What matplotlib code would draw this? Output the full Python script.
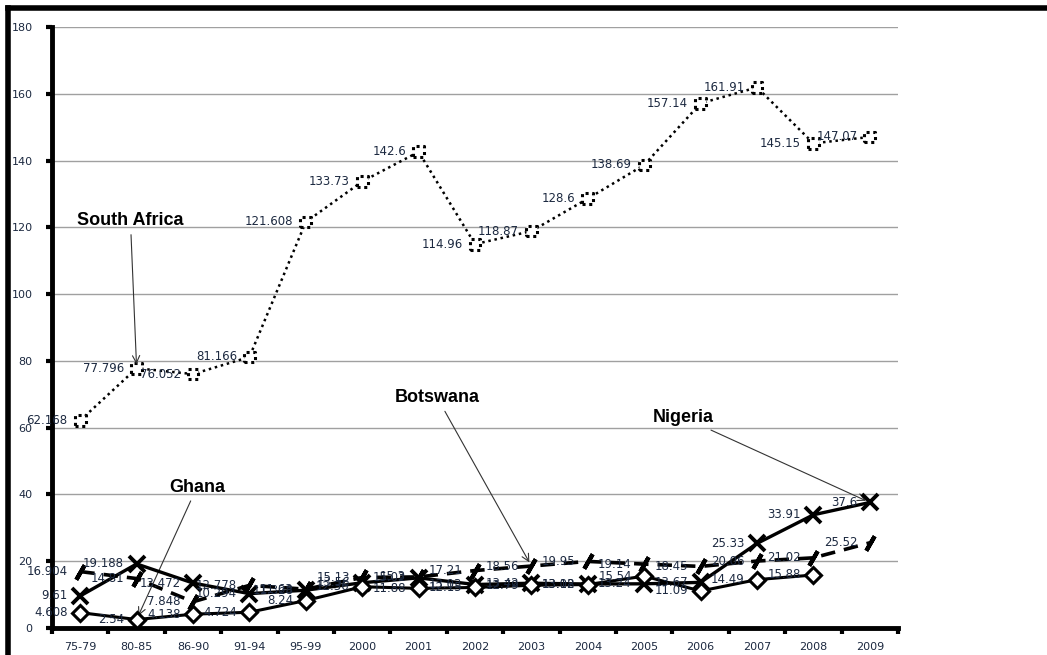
import numpy as np
import matplotlib
matplotlib.use("Agg")
import matplotlib.pyplot as plt
from matplotlib.lines import Line2D

# ── Data ──────────────────────────────────────────────────────────────────────
periods = ["75-79", "80-85", "86-90", "91-94", "95-99", "2000", "2001", "2002",
           "2003", "2004", "2005", "2006", "2007", "2008", "2009"]

south_africa = [62.168, 77.796, 76.052, 81.166, 121.608, 133.73, 142.6, 114.96,
                118.87, 128.6, 138.69, 157.14, 161.91, 145.15, 147.07]
nigeria  = [9.61, 19.188, 13.472, 10.294, 11.328, 13.56, 15.02, 13.03,
            13.42, 13.18, 13.24, 13.67, 25.33, 33.91, 37.6]
botswana = [16.904, 14.81, 7.848, 12.778, 11.63, 15.13, 15.30, 17.21,
            18.56, 19.95, 19.14, 18.45, 20.06, 21.02, 25.52]
ghana    = [4.608, 2.54, 4.138, 4.724, 8.24, 12.36, 11.88, 12.15,
            12.79, 13.02, 15.54, 11.09, 14.49, 15.88, np.nan]

y_ticks = [0, 20, 40, 60, 80, 100, 120, 140, 160, 180]

# ── Style ─────────────────────────────────────────────────────────────────────
label_color = "#1c2940"
label_kw = dict(fontsize=8.5, color=label_color, family="DejaVu Sans")

fig = plt.figure(figsize=(10.47, 6.55), dpi=100, facecolor="white")
ax = fig.add_axes([0.0497, 0.0412, 0.8080, 0.9176])

x = np.arange(len(periods))

# gridlines
for v in y_ticks[1:]:
    ax.axhline(v, color="#a0a0a0", linewidth=1.0, zorder=0)

# ── Series ────────────────────────────────────────────────────────────────────
# South Africa: dotted line with dotted square markers
ax.plot(x, south_africa, color="black", linestyle=(0, (1, 1.5)), linewidth=1.8, zorder=2)
ax.scatter(x, south_africa, marker="s", s=60, facecolors="white", edgecolors="black",
           linewidths=2.2, linestyles=(0, (1, 1.2)), zorder=3)

# Botswana: heavy dashed line with slash markers
ax.plot(x, botswana, color="black", linestyle=(0, (4, 2.5)), linewidth=2.6, zorder=2)
ax.plot(x, botswana, linestyle="none", marker=(2, 2, -30), markersize=12,
        markeredgewidth=3, color="black", zorder=3)

# Nigeria: solid line with X markers
ax.plot(x, nigeria, color="black", linewidth=2.4, marker="x", markersize=11,
        markeredgewidth=2.8, zorder=4)

# Ghana: solid line with open diamonds
ax.plot(x, ghana, color="black", linewidth=2.2, marker="D", markersize=8,
        markerfacecolor="white", markeredgecolor="black", markeredgewidth=2.2, zorder=5)

# ── Data labels (left of each point) ──────────────────────────────────────────
for series in (south_africa, botswana, nigeria, ghana):
    for xi, v in zip(x, series):
        if np.isnan(v):
            continue
        ax.annotate(f"{v:g}", (xi, v), xytext=(-9, 0), textcoords="offset points",
                    ha="right", va="center", zorder=6, **label_kw)

# ── Callouts ──────────────────────────────────────────────────────────────────
call_kw = dict(fontsize=13, fontweight="bold", family="Liberation Sans",
               ha="center", va="center", color="black")
arrow_kw = dict(arrowstyle="->", color="#333333", linewidth=0.8, shrinkA=2, shrinkB=3)

ax.annotate("South Africa", xy=(1, south_africa[1]), xytext=(0.89, 122), arrowprops=arrow_kw, **call_kw)
ax.annotate("Ghana", xy=(1, ghana[1]), xytext=(2.07, 42.2), arrowprops=arrow_kw, **call_kw)
ax.annotate("Botswana", xy=(8, botswana[8]), xytext=(6.33, 69), arrowprops=arrow_kw, **call_kw)
ax.annotate("Nigeria", xy=(14, nigeria[14]), xytext=(10.7, 63), arrowprops=arrow_kw, **call_kw)

# ── Axes ──────────────────────────────────────────────────────────────────────
ax.set_xlim(-0.5, len(periods) - 0.5)
ax.set_ylim(0, 180)
ax.set_yticks(y_ticks)
ax.set_yticklabels([str(v) for v in y_ticks], fontsize=8, color=label_color)
ax.set_xticks(x)
ax.set_xticklabels(periods, fontsize=8, color=label_color)
ax.set_xticks(np.arange(-0.5, len(periods)), minor=True)
ax.tick_params(axis="x", which="major", length=0, pad=10)
ax.tick_params(axis="x", which="minor", length=4, width=3, direction="out", color="black")
ax.tick_params(axis="y", length=4, width=3, direction="out", pad=10)

for side in ("top", "right"):
    ax.spines[side].set_visible(False)
for side in ("left", "bottom"):
    ax.spines[side].set_linewidth(3.5)
    ax.spines[side].set_color("black")

# outer frame of the pasted chart (top and left edge)
fig.add_artist(Line2D([0.0076, 1.0], [0.9878, 0.9878], color="black", linewidth=4,
                      transform=fig.transFigure))
fig.add_artist(Line2D([0.0076, 0.0076], [0.0, 0.9878], color="black", linewidth=4,
                      transform=fig.transFigure))

fig.savefig("out.png", dpi=100, facecolor="white")
